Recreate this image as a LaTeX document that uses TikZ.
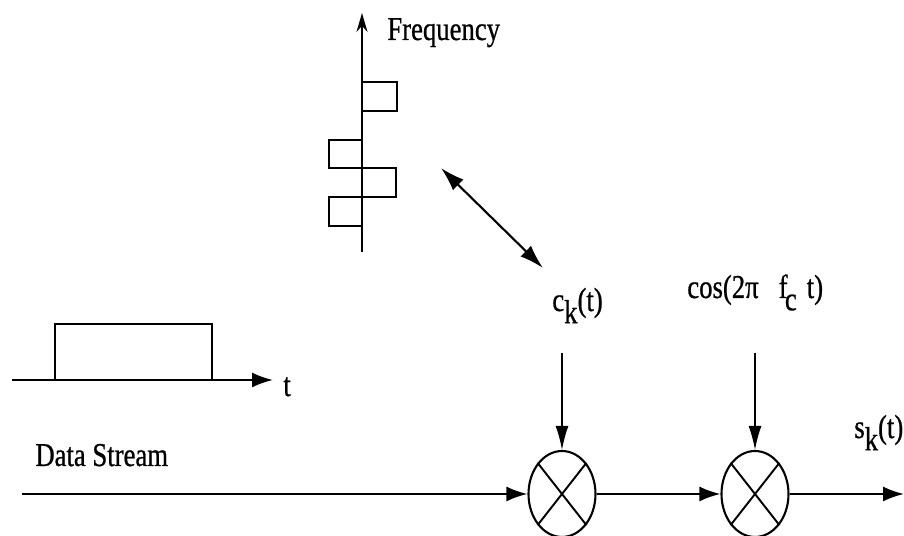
\documentclass[tikz,border=0pt]{standalone}
\usepackage{fontspec}
\setmainfont[FakeStretch=0.8,FakeBold=0.7]{Liberation Serif}
\usetikzlibrary{shapes.geometric, arrows.meta}
\newcommand{\lowsub}[1]{\raisebox{-0.8ex}{#1}}
\tikzset{
  lbl/.style={inner sep=0pt,font=\fontsize{19}{21}\selectfont},
  mixer/.style={draw,ellipse,line width=1.2pt,inner sep=0pt,minimum width=1.34cm,minimum height=1.72cm},
  sigline/.style={line width=1.2pt,-{Latex[length=4.2mm,width=3mm]}},
  ctrlline/.style={line width=0.8pt,-{Latex[length=4.8mm,width=2.6mm]}},
  pulse/.style={line width=1.1pt}
}
\begin{document}
\begin{tikzpicture}[x=0.02cm,y=0.02cm]
  \useasboundingbox (0,0) rectangle (904,536);

  % spectrum
  \coordinate (fbot) at (362,284);
  \coordinate (ftop) at (362,523);
  \draw[line width=1pt,-{Stealth[length=3.8mm,width=2.2mm]}] (fbot) -- (ftop);
  \node[lbl,anchor=base west] (freq) at (387,496) {Frequency};
  \draw[pulse] (363,454) -- (397,454) -- (397,425) -- (363,425);
  \draw[pulse] (362,396) -- (329,396) -- (329,368) -- (396,368) -- (396,339) -- (329,339) -- (329,310) -- (362,310);

  % hopping link
  \coordinate (hopa) at (441,368);
  \coordinate (hopb) at (543,268);
  \draw[line width=1.2pt,{Latex[length=4.8mm,width=3mm]}-{Latex[length=4.8mm,width=3mm]}] (hopa) -- (hopb);

  % data pulse
  \coordinate (tstart) at (12,156);
  \node[lbl,anchor=base west] (tlbl) at (283,140) {t};
  \coordinate (tend) at (273,156);
  \draw[sigline] (tstart) -- (tend);
  \draw[pulse] (55,156) -- (55,212) -- (212,212) -- (212,156);

  % modulators
  \node[mixer] (mixa) at (562,42) {};
  \node[mixer] (mixb) at (755,42) {};
  \draw[line width=1.1pt] (mixa.north west) -- (mixa.south east) (mixa.north east) -- (mixa.south west);
  \draw[line width=1.1pt] (mixb.north west) -- (mixb.south east) (mixb.north east) -- (mixb.south west);

  \node[lbl,anchor=base west] (data) at (35,70) {Data Stream};
  \coordinate (datain) at (22,42);
  \coordinate (sigout) at (904,42);
  \draw[sigline] (datain) -- (mixa);
  \draw[sigline] (mixa) -- (mixb);
  \draw[sigline] (mixb) -- (sigout);

  \node[lbl,anchor=base west] (code) at (552,225) {c\lowsub{k}(t)};
  \node[lbl,anchor=base west] (carrier) at (687,238) {cos(2π\hspace{0.6em}f\hspace{-0.08em}\lowsub{c}\hspace{0.3em}t)};
  \node[lbl,anchor=base west] (sig) at (854,98) {s\lowsub{k}(t)};
  \coordinate (codein) at (562,183);
  \coordinate (carrin) at (755,183);
  \draw[ctrlline] (codein) -- (mixa);
  \draw[ctrlline] (carrin) -- (mixb);
\end{tikzpicture}
\end{document}
